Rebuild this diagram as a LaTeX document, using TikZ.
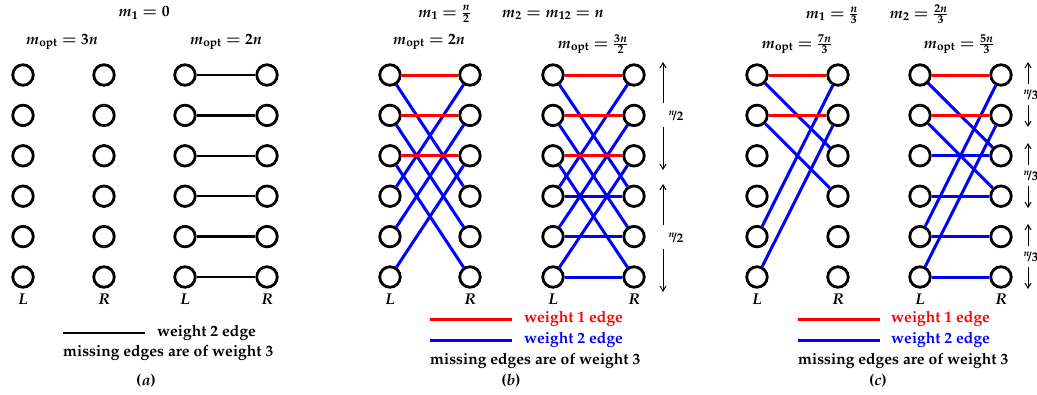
\documentclass[tikz,border=0pt]{standalone}
\usepackage[T1]{fontenc}
\usepackage{mathpazo}
\usetikzlibrary{arrows.meta}

\tikzset{
  vtx/.style={circle,draw,line width=2.8pt,minimum size=20.5pt,inner sep=0pt},
  wone/.style={red,line width=3pt},
  wtwo/.style={blue,line width=3pt},
  wblk/.style={black,line width=2.4pt},
  lbl/.style={font=\fontsize{15.6}{18}\selectfont\bfseries\boldmath,inner sep=1pt},
  hlbl/.style={font=\fontsize{13}{15}\selectfont\bfseries\boldmath,inner sep=1pt},
  spanarrow/.style={line width=1pt,-{Straight Barb[length=5pt,width=6pt]}},
}

\begin{document}
\begin{tikzpicture}[x=1pt,y=-1pt]
\useasboundingbox (0,0) rectangle (1037,394);

% Vertices of the six bipartite graphs
\foreach \g/\xl/\xr in {1/23/104,2/185/267,3/390/470,4/553/634,5/757/838,6/920/1001} {
  \foreach \i in {1,...,6} {
    \node[vtx] (g\g L\i) at (\xl,{75+40.4*(\i-1)}) {};
    \node[vtx] (g\g R\i) at (\xr,{75+40.4*(\i-1)}) {};
  }
  \node[lbl] (g\g LL) at (\xl,299) {$L$};
  \node[lbl] (g\g RL) at (\xr,299) {$R$};
}

% Headings
\node[lbl] (ta) at (144,13) {$m_1=0$};
\node[lbl] (tb) at (511,14) {$m_1=\frac{n}{2}\qquad m_2=m_{12}=n$};
\node[lbl] (tc) at (877,14) {$m_1=\frac{n}{3}\qquad m_2=\frac{2n}{3}$};
\node[lbl] (oa1) at (62,42) {$m_{\mathrm{opt}}=3n$};
\node[lbl] (oa2) at (226,42) {$m_{\mathrm{opt}}=2n$};
\node[lbl] (ob1) at (429,42) {$m_{\mathrm{opt}}=2n$};
\node[lbl] (ob2) at (593,44) {$m_{\mathrm{opt}}=\frac{3n}{2}$};
\node[lbl] (oc1) at (797,44) {$m_{\mathrm{opt}}=\frac{7n}{3}$};
\node[lbl] (oc2) at (959,44) {$m_{\mathrm{opt}}=\frac{5n}{3}$};

% (a) perfect matching of weight 2
\foreach \i in {1,...,6}
  \draw[wblk] (g2L\i) -- (g2R\i);

% (b) crossing edges, then the weight 1 edges on top
\foreach \i in {1,2,3} {
  \pgfmathtruncatemacro\j{\i+3}
  \draw[wtwo] (g3L\i) -- (g3R\j);
  \draw[wtwo] (g3L\j) -- (g3R\i);
  \draw[wtwo] (g4L\i) -- (g4R\j);
  \draw[wtwo] (g4L\j) -- (g4R\i);
  \draw[wtwo] (g4L\j) -- (g4R\j);
  \draw[wone] (g3L\i) -- (g3R\i);
  \draw[wone] (g4L\i) -- (g4R\i);
}

% (c)
\foreach \i in {1,2} {
  \pgfmathtruncatemacro\j{\i+2}
  \pgfmathtruncatemacro\k{\i+4}
  \draw[wtwo] (g5L\i) -- (g5R\j);
  \draw[wtwo] (g5L\k) -- (g5R\i);
  \draw[wtwo] (g6L\i) -- (g6R\j);
  \draw[wtwo] (g6L\k) -- (g6R\i);
  \draw[wone] (g5L\i) -- (g5R\i);
  \draw[wone] (g6L\i) -- (g6R\i);
}
\foreach \i in {3,...,6}
  \draw[wtwo] (g6L\i) -- (g6R\i);

% Block sizes
\foreach \k/\ym in {1/116,2/238} {
  \node[hlbl] (hb\k) at (676,\ym) {$^{n}\!/2$};
  \coordinate (hb\k u) at (663,{\ym-13});
  \coordinate (hb\k t) at (663,{\ym-54});
  \coordinate (hb\k d) at (663,{\ym+11});
  \coordinate (hb\k b) at (663,{\ym+54});
  \draw[spanarrow] (hb\k u) -- (hb\k t);
  \draw[spanarrow] (hb\k d) -- (hb\k b);
}
\foreach \k/\ym in {1/95,2/176,3/257} {
  \node[hlbl] (hc\k) at (1031,\ym) {$^{n}\!/3$};
  \coordinate (hc\k u) at (1028,{\ym-11});
  \coordinate (hc\k t) at (1028,{\ym-33});
  \coordinate (hc\k d) at (1028,{\ym+10});
  \coordinate (hc\k b) at (1028,{\ym+32});
  \draw[spanarrow] (hc\k u) -- (hc\k t);
  \draw[spanarrow] (hc\k d) -- (hc\k b);
}

% Legends
\coordinate (ka1) at (63,333); \coordinate (ka2) at (145,333);
\draw[wblk] (ka1) -- (ka2);
\node[lbl,anchor=west] (la1) at (156,333) {weight $2$ edge};
\node[lbl,anchor=west] (la2) at (62,353) {missing edges are of weight $3$};
\node[lbl] (capa) at (146,381) {($a$)};

\coordinate (kb1) at (430,319); \coordinate (kb2) at (512,319);
\coordinate (kb3) at (430,340); \coordinate (kb4) at (512,340);
\draw[wone] (kb1) -- (kb2);
\draw[wtwo] (kb3) -- (kb4);
\node[lbl,anchor=west,red] (lb1) at (523,319) {weight $1$ edge};
\node[lbl,anchor=west,blue] (lb2) at (523,340) {weight $2$ edge};
\node[lbl,anchor=west] (lb3) at (429,361) {missing edges are of weight $3$};
\node[lbl] (capb) at (511,381) {($b$)};

\coordinate (kc1) at (798,319); \coordinate (kc2) at (880,319);
\coordinate (kc3) at (798,340); \coordinate (kc4) at (880,340);
\draw[wone] (kc1) -- (kc2);
\draw[wtwo] (kc3) -- (kc4);
\node[lbl,anchor=west,red] (lc1) at (890,319) {weight $1$ edge};
\node[lbl,anchor=west,blue] (lc2) at (890,340) {weight $2$ edge};
\node[lbl,anchor=west] (lc3) at (797,361) {missing edges are of weight $3$};
\node[lbl] (capc) at (878,381) {($c$)};
\end{tikzpicture}
\end{document}
